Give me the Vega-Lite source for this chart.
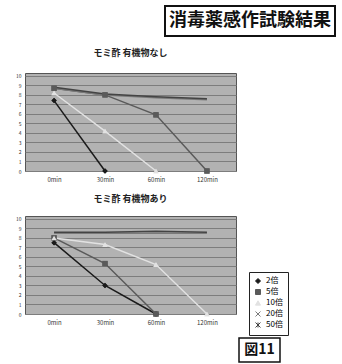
{
  "$schema": "https://vega.github.io/schema/vega-lite/v6.json",
  "padding": {"left": 14, "top": 5, "right": 0, "bottom": 0},
  "background": "#ffffff",
  "config": {
    "font": "Noto Sans CJK JP",
    "view": {"stroke": null},
    "axis": {"labelFont": "Noto Sans CJK JP"}
  },
  "datasets": {
    "d": [
      {"chart": "なし", "time": "0min", "series": "2倍", "value": 7.4},
      {"chart": "なし", "time": "30min", "series": "2倍", "value": 0},
      {"chart": "なし", "time": "0min", "series": "5倍", "value": 8.7},
      {"chart": "なし", "time": "30min", "series": "5倍", "value": 8.0},
      {"chart": "なし", "time": "60min", "series": "5倍", "value": 5.9},
      {"chart": "なし", "time": "120min", "series": "5倍", "value": 0},
      {"chart": "なし", "time": "0min", "series": "10倍", "value": 8.2},
      {"chart": "なし", "time": "30min", "series": "10倍", "value": 4.2},
      {"chart": "なし", "time": "60min", "series": "10倍", "value": 0},
      {"chart": "なし", "time": "0min", "series": "20倍", "value": 8.7},
      {"chart": "なし", "time": "30min", "series": "20倍", "value": 8.0},
      {"chart": "なし", "time": "60min", "series": "20倍", "value": 7.7},
      {"chart": "なし", "time": "120min", "series": "20倍", "value": 7.5},
      {"chart": "なし", "time": "0min", "series": "50倍", "value": 8.8},
      {"chart": "なし", "time": "30min", "series": "50倍", "value": 8.1},
      {"chart": "なし", "time": "60min", "series": "50倍", "value": 7.8},
      {"chart": "なし", "time": "120min", "series": "50倍", "value": 7.6},
      {"chart": "あり", "time": "0min", "series": "2倍", "value": 7.5},
      {"chart": "あり", "time": "30min", "series": "2倍", "value": 3.0},
      {"chart": "あり", "time": "60min", "series": "2倍", "value": 0},
      {"chart": "あり", "time": "0min", "series": "5倍", "value": 8.0},
      {"chart": "あり", "time": "30min", "series": "5倍", "value": 5.3},
      {"chart": "あり", "time": "60min", "series": "5倍", "value": 0},
      {"chart": "あり", "time": "0min", "series": "10倍", "value": 8.0},
      {"chart": "あり", "time": "30min", "series": "10倍", "value": 7.3},
      {"chart": "あり", "time": "60min", "series": "10倍", "value": 5.2},
      {"chart": "あり", "time": "120min", "series": "10倍", "value": 0},
      {"chart": "あり", "time": "0min", "series": "20倍", "value": 8.5},
      {"chart": "あり", "time": "30min", "series": "20倍", "value": 8.5},
      {"chart": "あり", "time": "60min", "series": "20倍", "value": 8.5},
      {"chart": "あり", "time": "120min", "series": "20倍", "value": 8.5},
      {"chart": "あり", "time": "0min", "series": "50倍", "value": 8.6},
      {"chart": "あり", "time": "30min", "series": "50倍", "value": 8.6},
      {"chart": "あり", "time": "60min", "series": "50倍", "value": 8.7},
      {"chart": "あり", "time": "120min", "series": "50倍", "value": 8.6}
    ],
    "title": [{"t": "消毒薬感作試験結果"}],
    "fig": [{"t": "図11"}],
    "blank": [{"t": ""}]
  },
  "resolve": {"scale": {"color": "shared", "shape": "shared"}, "legend": {"color": "shared", "shape": "shared"}},
  "spacing": 11,
  "vconcat": [
    {
      "hconcat": [
        {"data": {"name": "blank"}, "width": 139, "height": 30, "view": {"stroke": null}, "mark": {"type": "text"}, "encoding": {"text": {"field": "t"}}},
        {"data": {"name": "title"}, "width": 170, "height": 30, "view": {"stroke": "#111", "strokeWidth": 2}, "mark": {"type": "text", "fontSize": 18, "fontWeight": "bold", "font": "Noto Sans CJK JP", "color": "#111", "baseline": "middle"}, "encoding": {"text": {"field": "t"}}}
      ],
      "spacing": 0
    },
    {
      "data": {"name": "d"},
      "transform": [{"filter": "datum.chart == 'なし'"}],
      "title": {"text": "モミ酢 有機物なし", "fontSize": 9, "fontWeight": "bold", "offset": 15, "color": "#222"},
      "width": 211, "height": 98,
      "view": {"fill": "#b2b2b2", "stroke": "#555", "strokeWidth": 1},
      "encoding": {
        "x": {"field": "time", "type": "ordinal", "sort": ["0min", "30min", "60min", "120min"], "scale": {"type": "point", "padding": 0.57},
              "axis": {"title": null, "labelAngle": 0, "ticks": false, "domain": false, "labelFontSize": 6, "labelPadding": 5, "labelColor": "#333"}},
        "y": {"field": "value", "type": "quantitative", "scale": {"domain": [0, 10.3], "nice": false},
              "axis": {"title": null, "values": [0,1,2,3,4,5,6,7,8,9,10], "ticks": false, "domain": false, "labelFontSize": 5, "labelPadding": 4, "labelColor": "#333", "gridColor": "#7d7d7d", "gridWidth": 1}},
        "color": {"field": "series", "type": "nominal", "scale": {"domain": ["2倍", "5倍", "10倍", "20倍", "50倍"], "range": ["#1a1a1a", "#5a5a5a", "#e2e2e2", "#7a7a7a", "#444444"]},
                  "legend": {"title": null, "orient": "none", "legendX": 224, "legendY": 266, "strokeColor": "#222", "padding": 5, "labelFontSize": 8, "symbolSize": 25, "rowPadding": 1, "labelExpr": "datum.label + '\u3000\u3000\u3000'", "symbolStrokeWidth": 1}},
        "shape": {"field": "series", "type": "nominal", "scale": {"domain": ["2倍", "5倍", "10倍", "20倍", "50倍"], "range": ["diamond", "square", "triangle-up", "M-1,-1L1,1M1,-1L-1,1", "M-1,-1L1,1M1,-1L-1,1M0,-1L0,1"]},
                  "legend": {"title": null}}
      },
      "layer": [
        {"mark": {"type": "line", "strokeWidth": 1.5}},
        {"mark": {"type": "point", "filled": true, "size": 25, "opacity": 1}}
      ]
    },
    {
      "data": {"name": "d"},
      "transform": [{"filter": "datum.chart == 'あり'"}],
      "title": {"text": "モミ酢 有機物あり", "fontSize": 9, "fontWeight": "bold", "offset": 12, "color": "#222"},
      "width": 211, "height": 98,
      "view": {"fill": "#b2b2b2", "stroke": "#555", "strokeWidth": 1},
      "encoding": {
        "x": {"field": "time", "type": "ordinal", "sort": ["0min", "30min", "60min", "120min"], "scale": {"type": "point", "padding": 0.57},
              "axis": {"title": null, "labelAngle": 0, "ticks": false, "domain": false, "labelFontSize": 6, "labelPadding": 5, "labelColor": "#333"}},
        "y": {"field": "value", "type": "quantitative", "scale": {"domain": [0, 10.3], "nice": false},
              "axis": {"title": null, "values": [0,1,2,3,4,5,6,7,8,9,10], "ticks": false, "domain": false, "labelFontSize": 5, "labelPadding": 4, "labelColor": "#333", "gridColor": "#7d7d7d", "gridWidth": 1}},
        "color": {"field": "series", "type": "nominal", "scale": {"domain": ["2倍", "5倍", "10倍", "20倍", "50倍"], "range": ["#1a1a1a", "#5a5a5a", "#e2e2e2", "#7a7a7a", "#444444"]},
                  "legend": {"title": null, "orient": "none", "legendX": 224, "legendY": 266, "strokeColor": "#222", "padding": 5, "labelFontSize": 8, "symbolSize": 25, "rowPadding": 1, "labelExpr": "datum.label + '\u3000\u3000\u3000'", "symbolStrokeWidth": 1}},
        "shape": {"field": "series", "type": "nominal", "scale": {"domain": ["2倍", "5倍", "10倍", "20倍", "50倍"], "range": ["diamond", "square", "triangle-up", "M-1,-1L1,1M1,-1L-1,1", "M-1,-1L1,1M1,-1L-1,1M0,-1L0,1"]},
                  "legend": {"title": null}}
      },
      "layer": [
        {"mark": {"type": "line", "strokeWidth": 1.5}},
        {"mark": {"type": "point", "filled": true, "size": 25, "opacity": 1}}
      ]
    },
    {
      "hconcat": [
        {"data": {"name": "blank"}, "width": 213, "height": 24, "view": {"stroke": null}, "mark": {"type": "text"}, "encoding": {"text": {"field": "t"}}},
        {"data": {"name": "fig"}, "width": 41, "height": 24, "view": {"stroke": "#111", "strokeWidth": 1.5}, "mark": {"type": "text", "fontSize": 14, "fontWeight": "bold", "color": "#111", "baseline": "middle"}, "encoding": {"text": {"field": "t"}}}
      ],
      "spacing": 0
    }
  ]
}
